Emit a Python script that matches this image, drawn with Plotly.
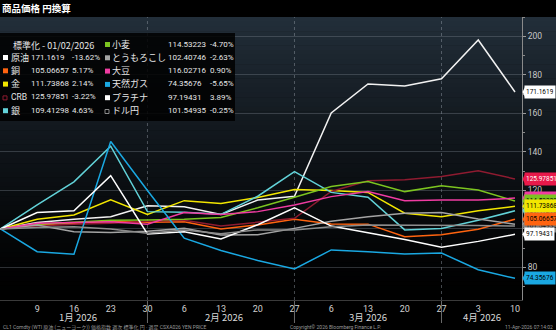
import plotly.graph_objects as go

# Weekly observations, normalised to 100 on 2026-01-02
dates = ["2026-01-02", "2026-01-09", "2026-01-16", "2026-01-23", "2026-01-30",
         "2026-02-06", "2026-02-13", "2026-02-20", "2026-02-27", "2026-03-06",
         "2026-03-13", "2026-03-20", "2026-03-27", "2026-04-03", "2026-04-10"]

crude = [100, 103.3, 105.0, 106.4, 112.0, 111.5, 107.5, 115.0, 117.0, 160.3, 175.3, 174.3, 178.0, 198.15, 171.1619]
copper = [100, 102.0, 103.0, 104.0, 103.5, 103.8, 100.0, 102.1, 105.0, 102.6, 102.5, 96.0, 97.0, 99.90, 105.06657]
gold = [100, 105.0, 107.3, 115.1, 107.6, 114.7, 113.2, 116.3, 120.5, 120.0, 119.0, 108.2, 106.4, 109.40, 111.73868]
crb = [100, 101.5, 102.5, 103.0, 104.0, 104.5, 101.5, 103.5, 105.5, 119.5, 125.0, 125.5, 127.2, 130.17, 125.97851]
silver = [100, 112.5, 124.5, 143.0, 109.0, 108.7, 107.6, 117.0, 129.8, 119.0, 116.5, 99.5, 100.3, 104.57, 109.41298]
wheat = [100, 102.5, 103.5, 104.5, 104.7, 105.0, 106.0, 111.0, 116.5, 122.0, 124.6, 119.4, 122.5, 120.18, 114.53223]
corn = [100, 102.1, 98.6, 98.2, 98.8, 100.3, 96.9, 97.0, 100.3, 104.0, 106.4, 108.2, 108.5, 105.17, 102.40746]
soy = [100, 103.0, 103.3, 103.8, 102.5, 108.5, 107.5, 109.0, 112.5, 116.8, 119.4, 114.7, 115.0, 114.99, 116.02716]
natgas = [100, 88.2, 86.9, 145.4, 120.0, 95.2, 88.8, 83.6, 79.2, 89.1, 88.2, 87.0, 87.5, 78.81, 74.35676]
platinum = [100, 108.5, 109.5, 127.7, 97.4, 98.6, 94.8, 102.2, 111.0, 101.5, 98.0, 94.5, 90.5, 93.555, 97.19431]
usdjpy = [100, 100.8, 101.2, 100.0, 97.8, 99.5, 97.5, 99.5, 99.5, 101.2, 102.1, 102.1, 102.1, 101.80, 101.54935]

# name, values, line colour, tag colour, tag text colour, legend marker style
series = {
    "原油": (crude, "#f2f2f2", "#ffffff", "#000000", "fill"),
    "銅": (copper, "#ff6410", "#ff6410", "#000000", "fill"),
    "金": (gold, "#f2e600", "#f2e600", "#000000", "fill"),
    "CRB": (crb, "#8e1b30", "#e8194a", "#ffffff", "hollow"),
    "銀": (silver, "#62d2d8", "#62d2d8", "#000000", "fill"),
    "小麦": (wheat, "#7cc420", "#7cc420", "#000000", "fill"),
    "とうもろこし": (corn, "#a4a4a4", "#a4a4a4", "#000000", "fill"),
    "大豆": (soy, "#f03ca2", "#f03ca2", "#000000", "fill"),
    "天然ガス": (natgas, "#1aa8e2", "#1aa8e2", "#000000", "fill"),
    "プラチナ": (platinum, "#ffffff", "#ffffff", "#000000", "fill"),
    "ドル円": (usdjpy, "#8c8c8c", "#7a7a7a", "#000000", "hollow"),
}
legend_col1 = ["原油", "銅", "金", "CRB", "銀"]
legend_col2 = ["小麦", "とうもろこし", "大豆", "天然ガス", "プラチナ", "ドル円"]
tag_order = ["CRB", "大豆", "小麦", "銀", "金", "とうもろこし", "ドル円", "銅", "プラチナ", "天然ガス", "原油"]

month_labels = ["1月 2026", "2月 2026", "3月 2026", "4月 2026"]
month_label_x = ["2026-01-16 18:00", "2026-02-13 14:00", "2026-03-13 00:00", "2026-04-03 19:00"]
month_ends = ["2026-01-30", "2026-02-27", "2026-03-27"]
y_ticks = [80, 100, 120, 140, 160, 180, 200]

W, H = 556, 330
ML, MR, MT, MB = 0, 34, 17, 30
PW, PH = W - ML - MR, H - MT - MB


def px(x):
    return (x - ML) / PW


def py(y):
    return (H - MB - y) / PH


FONT = "Roboto, Noto Sans CJK JP, sans-serif"
CJK = "Noto Sans CJK JP, sans-serif"

fig = go.Figure()
for name, (vals, lc, _, _, _) in series.items():
    fig.add_trace(go.Scatter(x=dates, y=vals, mode="lines", name=name,
                             line=dict(color=lc, width=1.5), showlegend=False,
                             hoverinfo="skip"))

shapes = []
# dark gradient backdrop behind the plot
n_bands = 60
top_rgb = (34, 46, 57)
for i in range(n_bands):
    f = i / (n_bands - 1)
    k = (1 - f) ** 1.3
    c = tuple(int(round(v * k)) for v in top_rgb)
    y0 = MT + PH * i / n_bands
    y1 = MT + PH * (i + 1) / n_bands + 0.5
    shapes.append(dict(type="rect", xref="paper", yref="paper", x0=px(0), x1=px(W),
                       y0=py(y1), y1=py(y0), line=dict(width=0),
                       fillcolor="rgb(%d,%d,%d)" % c, layer="below"))

# month separators
for d in month_ends:
    shapes.append(dict(type="line", xref="x", yref="paper", x0=d, x1=d, y0=0, y1=1,
                       line=dict(color="rgba(150,160,170,0.45)", width=1, dash="dot"),
                       layer="below"))
    shapes.append(dict(type="line", xref="x", yref="paper", x0=d, x1=d, y0=py(323), y1=py(301),
                       line=dict(color="#6a6a6a", width=1)))

# legend panel
shapes.append(dict(type="rect", xref="paper", yref="paper", x0=px(0), x1=px(235),
                   y0=py(121), y1=py(33), line=dict(width=0),
                   fillcolor="rgba(0,0,0,0.85)", layer="above"))

annotations = []
# title bar
annotations.append(dict(text="<b>商品価格 円換算</b>", xref="paper", yref="paper",
                        x=px(0), y=py(8), xanchor="left", yanchor="middle", showarrow=False,
                        font=dict(family=CJK, size=9.5, color="#ffffff")))

num_font = dict(family=FONT, size=8, color="#e6e6e6")
name_font = dict(family=CJK, size=9, color="#e6e6e6")
annotations.append(dict(text="標準化 - 01/02/2026", xref="paper", yref="paper",
                        x=px(11), y=py(45), xanchor="left", yanchor="middle",
                        showarrow=False, font=dict(family=CJK, size=9, color="#e6e6e6")))


def legend_row(name, x_sq, x_name, x_val, x_pct, y):
    vals, lc, tc, _, style = series[name]
    last, prev = vals[-1], vals[-2]
    pct = (last / prev - 1) * 100
    if style == "fill":
        shapes.append(dict(type="rect", xref="paper", yref="paper",
                           x0=px(x_sq), x1=px(x_sq + 5), y0=py(y + 3), y1=py(y - 2),
                           fillcolor=tc, line=dict(width=0), layer="above"))
    else:
        shapes.append(dict(type="rect", xref="paper", yref="paper",
                           x0=px(x_sq), x1=px(x_sq + 4), y0=py(y + 3), y1=py(y - 1),
                           fillcolor="rgba(0,0,0,0)", line=dict(width=1, color=lc),
                           layer="above"))
    nf = dict(family=FONT, size=8.5, color="#e6e6e6") if name == "CRB" else name_font
    annotations.append(dict(text=name, xref="paper", yref="paper", x=px(x_name), y=py(y),
                            xanchor="left", yanchor="middle", showarrow=False, font=nf))
    annotations.append(dict(text=str(last), xref="paper", yref="paper", x=px(x_val), y=py(y),
                            xanchor="left", yanchor="middle", showarrow=False, font=num_font))
    annotations.append(dict(text="%.2f%%" % pct, xref="paper", yref="paper", x=px(x_pct), y=py(y),
                            xanchor="left", yanchor="middle", showarrow=False, font=num_font))


for i, name in enumerate(legend_col1):
    legend_row(name, 3, 9, 29, 70, 57 + i * 13.3)
for i, name in enumerate(legend_col2):
    legend_row(name, 105, 110, 166, 208, 44 + i * 13.3)

# value tags on the right axis
for name in tag_order:
    vals, lc, tc, txt, style = series[name]
    last = vals[-1]
    annotations.append(dict(text=str(last), xref="paper", yref="y", x=1, y=last,
                            xanchor="left", yanchor="middle", xshift=2, showarrow=False,
                            bgcolor=tc, borderpad=1, height=10,
                            font=dict(family=FONT, size=6.5, color=txt)))
    # small pointer on the left edge of each tag
    shapes.append(dict(type="path", xref="paper", yref="y",
                       path="M %f,%f L %f,%f L %f,%f Z" % (
                           px(PW + 0.5), last, px(PW + 3), last + 2.6, px(PW + 3), last - 2.6),
                       fillcolor=tc, line=dict(width=0), layer="above"))

# month labels under the date ticks
for lab, xd in zip(month_labels, month_label_x):
    annotations.append(dict(text=lab, xref="x", yref="paper", x=xd, y=py(317),
                            xanchor="center", yanchor="middle", showarrow=False,
                            font=dict(family=CJK, size=9.5, color="#d8d8d8")))

# footer notes
foot = dict(family=FONT, size=5, color="#9a9a9a")
annotations.append(dict(text="CL1 Comdty (WTI 原油 (ニューヨーク)) 価格指数 週次 標準化 円 · 週足 CSXA026 YEN PRICE",
                        xref="paper", yref="paper", x=px(1), y=py(327), xanchor="left",
                        yanchor="middle", showarrow=False, font=foot))
annotations.append(dict(text="Copyright© 2026 Bloomberg Finance L.P.", xref="paper", yref="paper",
                        x=px(335), y=py(327), xanchor="center", yanchor="middle",
                        showarrow=False, font=foot))
annotations.append(dict(text="11-Apr-2026 07:14:02", xref="paper", yref="paper",
                        x=px(555), y=py(327), xanchor="right", yanchor="middle",
                        showarrow=False, font=foot))

fig.update_layout(
    width=W, height=H,
    margin=dict(l=ML, r=MR, t=MT, b=MB, pad=0),
    paper_bgcolor="#000000", plot_bgcolor="rgba(0,0,0,0)",
    showlegend=False,
    shapes=shapes, annotations=annotations,
    xaxis=dict(type="date", range=["2026-01-01 22:00", "2026-04-11 08:00"],
               tickmode="array", tickvals=dates[1:],
               ticktext=[str(int(d[-2:])) for d in dates[1:]],
               showgrid=False, zeroline=False, showline=True,
               linecolor="#3a3a3a", linewidth=1, ticks="",
               tickfont=dict(family=FONT, size=9, color="#d0d0d0")),
    yaxis=dict(side="right", range=[63.1, 210.1], tickmode="array", tickvals=y_ticks,
               showgrid=True, gridcolor="rgba(125,135,145,0.35)", gridwidth=1,
               zeroline=False, showline=True, linecolor="#8a8a8a", linewidth=1,
               ticks="outside", ticklen=3, tickcolor="#9a9a9a",
               minor=dict(dtick=10, tick0=0, ticks="outside", ticklen=2, tickcolor="#8a8a8a",
                          showgrid=False),
               tickfont=dict(family=FONT, size=8.5, color="#c8c8c8")),
)

fig.write_html("out.html")
